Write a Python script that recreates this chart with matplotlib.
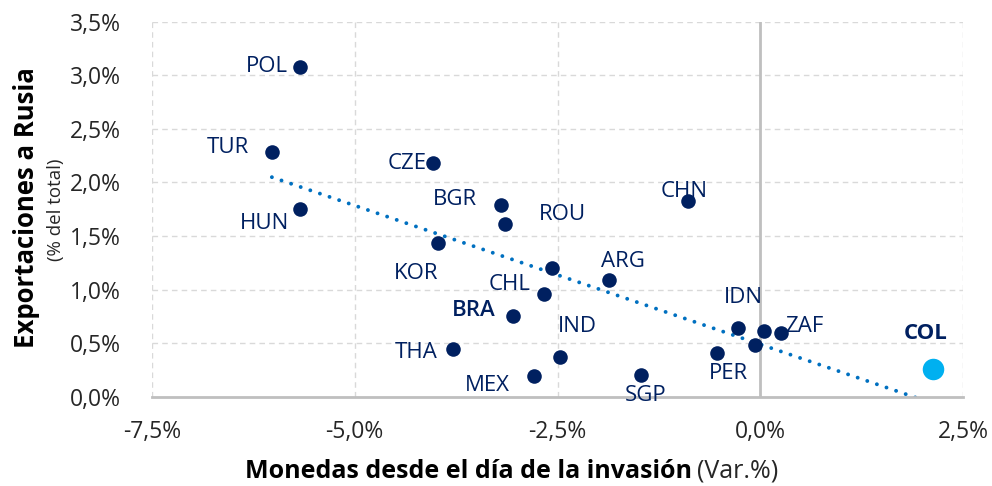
import numpy as np
import matplotlib
matplotlib.use("Agg")
from matplotlib import pyplot as plt
from matplotlib.ticker import FuncFormatter, MultipleLocator

plt.rcParams['font.family'] = ['Open Sans', 'DejaVu Sans']

# data (x: % change of currency, y: % of exports to Russia)
countries = ['POL', 'TUR', 'HUN', 'CZE', 'BGR', 'ROU', 'KOR', 'CHN', 'ARG', '',
             'CHL', 'BRA', 'IND', 'MEX', 'THA', 'SGP', 'PER', 'IDN', '', '', 'ZAF']
x_var = [-5.67, -6.02, -5.67, -4.03, -3.20, -3.15, -3.97, -0.89, -1.86, -2.57,
         -2.67, -3.05, -2.47, -2.79, -3.79, -1.47, -0.53, -0.28, -0.07, 0.05, 0.26]
y_exp = [3.08, 2.28, 1.75, 2.18, 1.79, 1.61, 1.43, 1.83, 1.09, 1.20,
         0.96, 0.75, 0.37, 0.19, 0.445, 0.20, 0.41, 0.64, 0.485, 0.61, 0.59]
col_x = 2.125
col_y = 0.256

# label offsets in pixels (dx, dy, ha)
label_pos = {
    'POL': (-12, 0, 'right'), 'TUR': (-23, 5, 'right'), 'HUN': (-11, -14, 'right'),
    'CZE': (-7, 0, 'right'), 'BGR': (-24, 5, 'right'), 'ROU': (34, 10, 'left'),
    'KOR': (0, -30, 'right'), 'CHN': (-4, 9, 'center'), 'ARG': (14, 18, 'center'),
    'CHL': (-13, 9, 'right'), 'BRA': (-17, 6, 'right'), 'IND': (17, 30, 'center'),
    'MEX': (-24, -9, 'right'), 'THA': (-15, -4, 'right'), 'SGP': (5, -20, 'center'),
    'PER': (11, -21, 'center'), 'IDN': (6, 31, 'center'), 'ZAF': (4, 7, 'left'),
}

navy = '#002060'
fig = plt.figure(figsize=(9.92, 4.86), dpi=100)
ax = fig.add_axes([0.153, 0.184, 0.818, 0.771])

ax.set_xlim(-7.5, 2.5)
ax.set_ylim(0, 3.5)
ax.xaxis.set_major_locator(MultipleLocator(2.5))
ax.yaxis.set_major_locator(MultipleLocator(0.5))
fmt = FuncFormatter(lambda v, p: f"{v:.1f}%".replace('.', ','))
ax.xaxis.set_major_formatter(fmt)
ax.yaxis.set_major_formatter(fmt)
ax.tick_params(length=0, labelsize=16.5, colors='#262626')
ax.tick_params(axis='x', pad=17)
ax.tick_params(axis='y', pad=22)

ax.grid(True, color='#d9d9d9', linestyle=(0, (4, 3)), linewidth=1)
ax.set_axisbelow(True)
for s in ['top', 'right', 'left']:
    ax.spines[s].set_visible(False)
ax.spines['bottom'].set_color('#bfbfbf')
ax.spines['bottom'].set_linewidth(2)
ax.axvline(0, color='#bfbfbf', linewidth=2, zorder=1)

# linear trend over every point, COL included
all_x = x_var + [col_x]
all_y = y_exp + [col_y]
k, b = np.polyfit(all_x, all_y, 1)
xt = np.array([min(all_x), max(all_x)])
ax.plot(xt, k * xt + b, color='#0070C0', linewidth=2.8,
        linestyle=(0, (0.01, 2.6)), dash_capstyle='round', zorder=2)

ax.scatter(x_var, y_exp, s=110, color=navy, zorder=3, linewidths=0)
ax.scatter([col_x], [col_y], s=240, color='#00B0F0', zorder=3, linewidths=0)

for name, xv, yv in zip(countries, x_var, y_exp):
    if not name:
        continue
    dx, dy, ha = label_pos[name]
    ax.annotate(name, (xv, yv), xytext=(dx, dy), textcoords='offset pixels',
                ha=ha, va='center', fontsize=16, color=navy,
                fontweight='semibold' if name == 'BRA' else 'normal')
ax.annotate('COL', (col_x, col_y), xytext=(-7, 36), textcoords='offset pixels',
            ha='center', va='center', fontsize=16, color=navy, fontweight='bold')

fig.text(27 / 992, 1 - 208 / 486, 'Exportaciones a Rusia', rotation=90,
         ha='center', va='center', fontsize=18.5, fontweight='bold', color='black')
fig.text(56 / 992, 1 - 210 / 486, '(% del total)', rotation=90,
         ha='center', va='center', fontsize=13.5, color='#262626')
fig.text(692 / 992, 1 - 471 / 486, 'Monedas desde el día de la invasión',
         ha='right', va='center', fontsize=18, fontweight='bold', color='black')
fig.text(697 / 992, 1 - 471 / 486, '(Var.%)',
         ha='left', va='center', fontsize=18, color='#262626')

fig.savefig('out.png', dpi=100)
